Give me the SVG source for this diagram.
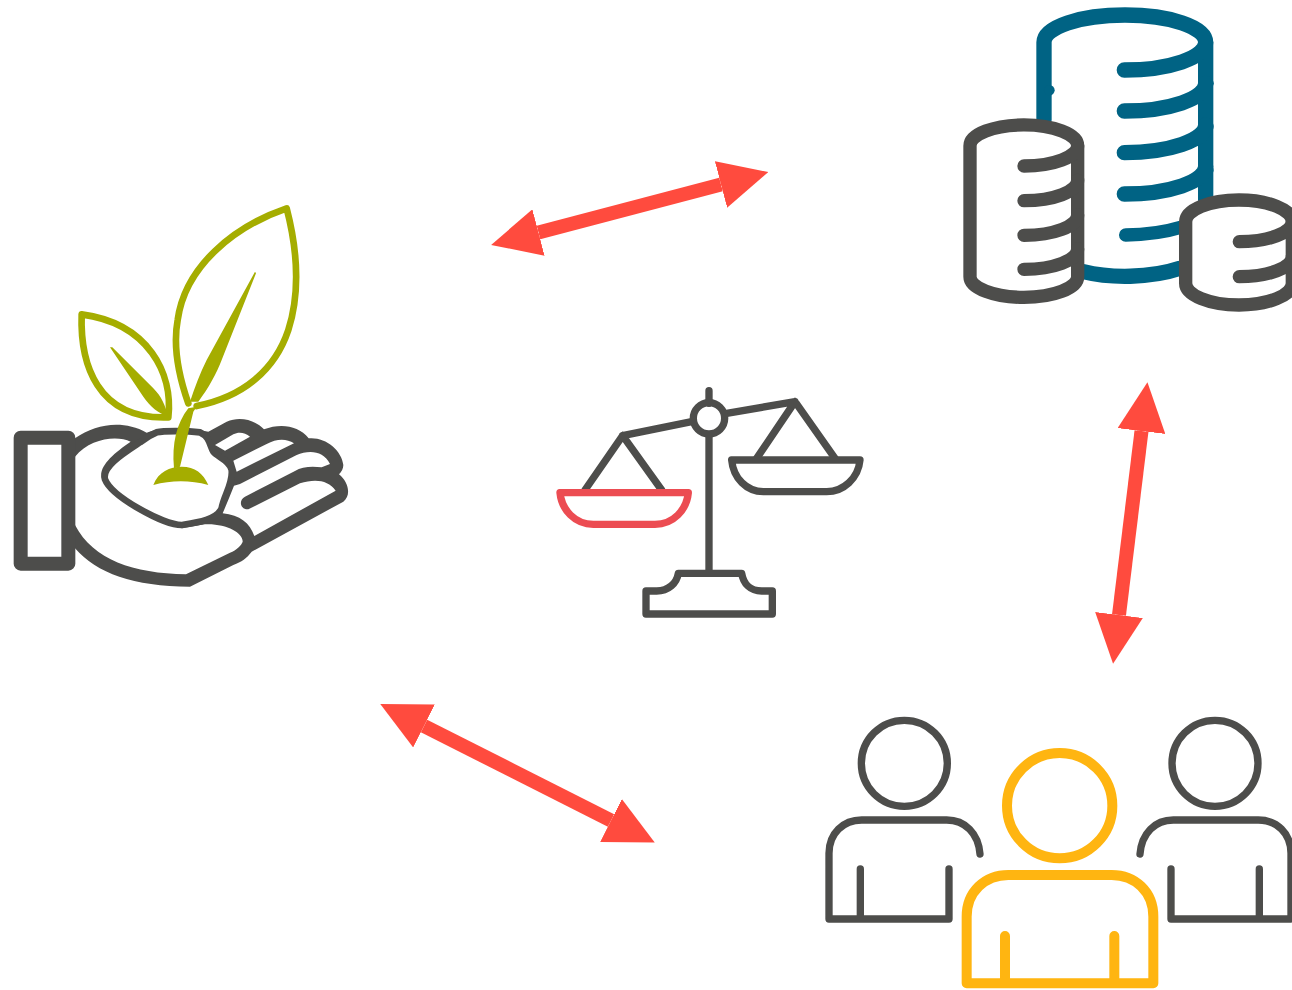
<svg xmlns="http://www.w3.org/2000/svg" width="1292" height="990" viewBox="0 0 1292 990">
<style>
.g{fill:none;stroke:#4d4d4b;stroke-linecap:round;stroke-linejoin:round}
.w{fill:#fff;stroke:#4d4d4b;stroke-linecap:round;stroke-linejoin:round}
.t{fill:none;stroke:#006384;stroke-linecap:round;stroke-linejoin:round}
.o{fill:none;stroke:#a5ad00;stroke-width:20;stroke-linecap:round;stroke-linejoin:round}
.of{fill:#a5ad00}
.y{fill:none;stroke:#ffb511;stroke-width:30;stroke-linecap:round;stroke-linejoin:round}
.a{fill:none;stroke:#ff4b3e;stroke-width:14;marker-start:url(#head);marker-end:url(#head)}
</style>
<defs>
<marker id="head" markerUnits="userSpaceOnUse" markerWidth="49" markerHeight="48" refX="0" refY="24" orient="auto-start-reverse" viewBox="0 0 49 48"><path d="M0,0L49,24L0,48Z" fill="#ff4b3e"/></marker>
</defs>
<rect width="1292" height="990" fill="#fff"/>
<g id="connectors">
<path class="a" d="M538.5,232.5L721,184.5"/>
<path class="a" d="M1141.5,431L1119,615"/>
<path class="a" d="M424,726L611,820.5"/>
</g>
<g id="hand-plant" transform="translate(0,190) scale(.33333)">
<path fill="#4d4d4b" d="M225,745C290,700 370,690 440,728C480,712 560,712 625,725L680,695C720,678 765,690 792,718C840,700 895,705 926,745C975,740 1025,780 1030,825C1030,835 1025,845 1017,853C1045,875 1055,915 1030,935L755,1085C740,1105 725,1115 700,1125L570,1190C400,1190 290,1150 225,1075Z"/>
<path fill="#fff" d="M225,800C270,745 350,735 392,755C340,790 295,830 305,865L545,1015L615,1003C680,1000 730,1030 728,1055C725,1065 710,1080 690,1088L558,1153C400,1150 280,1110 225,1005Z"/>
<path class="w" stroke-width="20" d="M420,757C370,790 305,830 315,868C335,920 490,1005 545,1005C590,998 650,990 665,955C670,920 700,880 695,840C690,810 650,800 640,785C630,770 630,740 600,727C560,722 490,722 470,727C450,735 435,745 420,757Z"/>
<path fill="#fff" d="M645,765L700,733C715,725 735,727 750,740L675,782Z"/>
<path fill="#fff" d="M700,812L800,762C830,745 860,745 882,760L710,845Z"/>
<path fill="#fff" d="M702,887L720,882L890,795C925,780 970,780 990,822L965,832C935,828 905,830 885,843L735,920C715,930 720,960 745,958L900,880C945,865 985,870 1007,902L763,1038C750,1000 720,975 668,970Q685,930 702,887Z"/>
<rect class="w" x="62" y="743" width="143" height="378" stroke-width="42"/>
<path class="o" d="M565,640C530,540 520,460 533,390C555,230 700,110 860,55C895,190 900,310 865,420C825,540 730,620 590,648"/>
<path class="o" d="M505,682C520,550 445,400 245,373C240,520 290,690 505,682Z"/>
<path class="of" d="M765,245L620,510C600,550 585,590 570,635L595,635C625,595 650,550 665,510L768,250Z"/>
<path class="of" d="M330,472L430,620C450,650 475,670 505,680C495,645 485,620 460,595L337,472Z"/>
<path class="of" d="M565,655C530,700 515,760 522,835L540,830L580,665L590,650Z"/>
<path class="of" d="M460,885C475,845 510,830 545,830C585,830 610,850 625,885C570,870 515,870 460,885Z"/>
</g>
<g id="coins" transform="translate(950,0) scale(.33333)">
<g id="coin-big">
<path class="t" stroke-width="46" d="M282,360V127C282,81 390,45 525,45C660,45 767,81 767,127V600"/>
<circle cx="298" cy="271" r="16" fill="#006384"/>
<circle cx="775" cy="250" r="16" fill="#006384"/>
<circle cx="775" cy="380" r="16" fill="#006384"/>
<circle cx="775" cy="510" r="16" fill="#006384"/>
<path class="t" stroke-width="46" d="M523,210A244,83 0 0 0 767,127M523,333A244,83 0 0 0 767,250M523,458A244,83 0 0 0 767,375M523,582A244,83 0 0 0 767,499"/>
<path class="t" stroke-width="40" d="M527,705C590,705 650,695 700,680"/>
<path class="t" stroke-width="46" stroke-linecap="butt" d="M400,815C480,835 600,835 690,805"/>
</g>
<g id="coin-left">
<path class="w" stroke-width="40" d="M60,437A161,62 0 0 1 383,437V830A161,62 0 0 1 60,830Z"/>
<path class="g" stroke-width="40" d="M222,498A161,61 0 0 0 383,437M222,602A161,61 0 0 0 383,541M222,706A161,61 0 0 0 383,645M222,808A161,61 0 0 0 383,747"/>
</g>
<g id="coin-right">
<path class="w" stroke-width="40" d="M707,665A160,65 0 0 1 1027,665V850A160,65 0 0 1 707,850Z"/>
<path class="g" stroke-width="40" d="M868,725A159,60 0 0 0 1027,665M868,830A159,60 0 0 0 1027,770"/>
</g>
</g>
<g id="scales" transform="translate(540,380) scale(.33333)">
<path class="g" stroke-width="22" d="M507,32V70M507,165V575M455,125L248,167M560,100L765,65M248,167L135,330M248,167L365,330M765,65L650,235M765,65L885,235"/>
<circle class="g" cx="507" cy="115" r="47" stroke-width="22"/>
<path class="g" stroke-width="22" d="M415,580H605C610,610 630,633 665,633H697V702H318V633H350C385,633 410,610 415,580Z"/>
<path class="g" stroke-width="22" d="M575,240H960C955,295 910,335 860,335H670C620,335 580,295 575,240Z"/>
<path fill="none" stroke="#ec4c52" stroke-width="22" stroke-linejoin="round" d="M60,338H445C440,390 400,433 345,433H160C105,433 65,390 60,338Z"/>
</g>
<g id="people" transform="translate(810,700) scale(.33333)">
<g id="person-left">
<circle class="g" cx="283" cy="190" r="129" stroke-width="22"/>
<path class="g" stroke-width="22" d="M510,462C505,400 465,360 410,360H155C100,360 57,400 57,460V657H417V507M151,507V657"/>
</g>
<g id="person-right">
<circle class="g" cx="1215" cy="190" r="129" stroke-width="22"/>
<path class="g" stroke-width="22" d="M990,462C995,400 1035,360 1090,360H1345C1400,360 1443,400 1443,460V657H1083V507M1348,507V657"/>
</g>
<g id="person-center">
<circle class="y" cx="749" cy="317" r="158"/>
<path class="y" d="M470,850V650C470,575 525,525 595,525H905C975,525 1030,575 1030,650V850ZM585,708V850M913,708V850"/>
</g>
</g>
</svg>
